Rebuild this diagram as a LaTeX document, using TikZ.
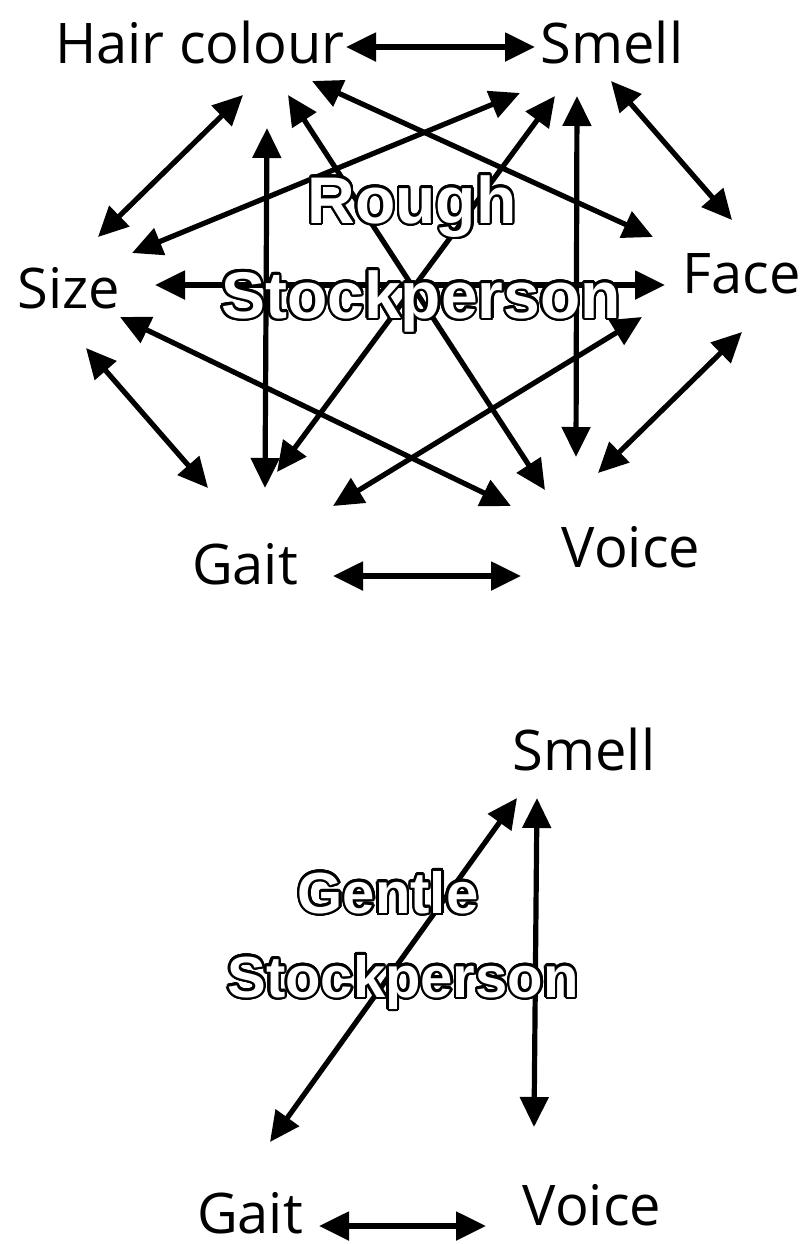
\documentclass[tikz,border=0pt]{standalone}
\usepackage{fontspec}
\setmainfont{Open Sans}
\newfontfamily\outfont{Liberation Sans}
\usepackage[copies]{contour}
\contourlength{1.2pt}
\contournumber{24}
\usepackage{tikz}
\usetikzlibrary{arrows.meta}

\begin{document}
\begin{tikzpicture}[x=0.5pt,y=-0.5pt,
   trait/.style={anchor=base,inner sep=0pt,font=\fontsize{28}{30}\selectfont},
   outl/.style={anchor=base,inner sep=0pt,text=white,
                font=\outfont\bfseries\fontsize{#1}{#1}\selectfont},
   link/.style={{Triangle[length=15pt,width=14pt]}-{Triangle[length=15pt,width=14pt]},
                line width=2.6pt}]
  \useasboundingbox (0,0) rectangle (806,1244);

  % rough stockperson
  \node[trait] (hair) at (200,63) {Hair colour};
  \node[trait] (smell) at (612,63) {Smell};
  \node[trait] (size) at (69,308) {Size};
  \node[trait] (face) at (742,293) {Face};
  \node[trait] (gait) at (245,584) {Gait};
  \node[trait] (voice) at (631,567) {Voice};

  \draw[link] ([shift={(146,-16)}]hair.base) -- ([shift={(-77,-16)}]smell.base);
  \draw[link] ([shift={(43,32)}]hair.base) -- ([shift={(29,-71)}]size.base);
  \draw[link] ([shift={(67,65)}]hair.base) -- ([shift={(20,-96)}]gait.base);
  \draw[link] ([shift={(88,32)}]hair.base) -- ([shift={(-86,-77)}]voice.base);
  \draw[link] ([shift={(112,18)}]hair.base) -- ([shift={(-89,-56)}]face.base);
  \draw[link] ([shift={(-92,30)}]smell.base) -- ([shift={(63,-55)}]size.base);
  \draw[link] ([shift={(-57,33)}]smell.base) -- ([shift={(32,-112)}]gait.base);
  \draw[link] ([shift={(-35,33)}]smell.base) -- ([shift={(-55,-110)}]voice.base);
  \draw[link] ([shift={(-1,18)}]smell.base) -- ([shift={(-10,-73)}]face.base);
  \draw[link] ([shift={(86,-23)}]size.base) -- ([shift={(-77,-8)}]face.base);
  \draw[link] ([shift={(51,9)}]size.base) -- ([shift={(-120,-61)}]voice.base);
  \draw[link] ([shift={(17,40)}]size.base) -- ([shift={(-37,-96)}]gait.base);
  \draw[link] ([shift={(-100,24)}]face.base) -- ([shift={(88,-78)}]gait.base);
  \draw[link] ([shift={(0,39)}]face.base) -- ([shift={(-33,-94)}]voice.base);
  \draw[link] ([shift={(88,-8)}]gait.base) -- ([shift={(-110,9)}]voice.base);

  \node[outl=33] (rough) at (412,223) {\contour{black}{Rough}};
  \node[outl=33] (rstock) at (421,318) {\contour{black}{Stockperson}};

  % gentle stockperson
  \node[trait] (smelltwo) at (584,770) {Smell};
  \node[trait] (gaittwo) at (250,1233) {Gait};
  \node[trait] (voicetwo) at (592,1225) {Voice};

  \draw[link] ([shift={(-67,28)}]smelltwo.base) -- ([shift={(20,-91)}]gaittwo.base);
  \draw[link] ([shift={(-47,28)}]smelltwo.base) -- ([shift={(-58,-98)}]voicetwo.base);
  \draw[link] ([shift={(69,-7)}]gaittwo.base) -- ([shift={(-106,1)}]voicetwo.base);

  \node[outl=29] (gentle) at (388,913) {\contour{black}{Gentle}};
  \node[outl=29] (gstock) at (403,997) {\contour{black}{Stockperson}};
\end{tikzpicture}
\end{document}
